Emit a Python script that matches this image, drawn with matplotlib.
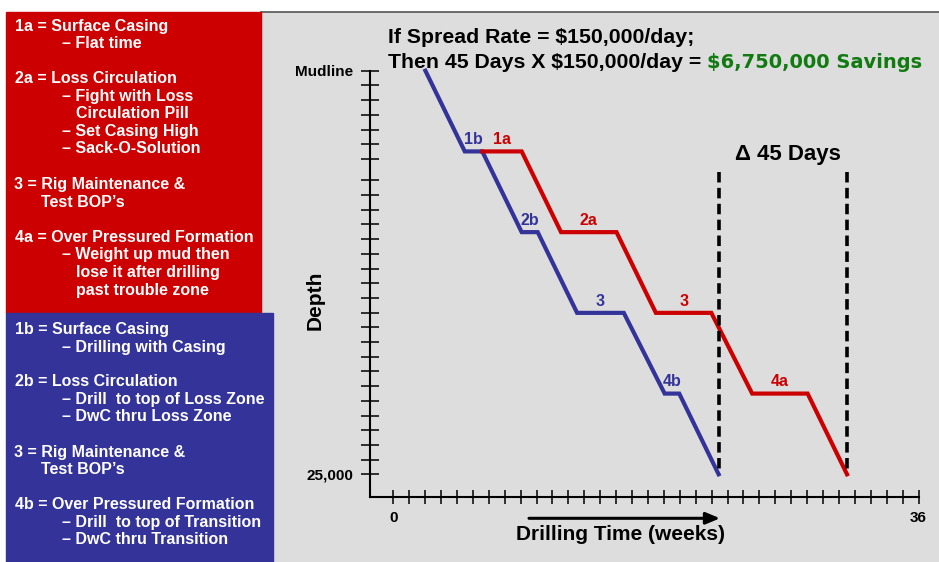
import matplotlib
matplotlib.use('Agg')
import matplotlib.pyplot as plt
import numpy as np
from matplotlib.patches import Rectangle, FancyArrowPatch
from matplotlib.lines import Line2D

plt.rcParams['font.family'] = ['Liberation Sans', 'DejaVu Sans']

# Conventional well (a) vs drilling with casing (b): weeks vs depth (ft)
blue_weeks = [2.2, 4.9, 6.1, 8.8, 9.9, 12.6, 15.8, 18.6, 19.6, 22.3]
blue_depth = [0, 5000, 5000, 10000, 10000, 15000, 15000, 20000, 20000, 25000]
red_weeks = [6.1, 8.8, 11.5, 15.3, 18.0, 21.8, 24.6, 28.4, 31.1]
red_depth = [5000, 5000, 10000, 10000, 15000, 15000, 20000, 20000, 25000]
blue_tags = ['1b', '2b', '3', '4b']
red_tags = ['1a', '2a', '3', '4a']
dash_top = 6300  # depth where the delta markers start

# axis ticks (the original scale is a bit irregular)
x_ticks = np.linspace(0, 36, 34)
x_labels = ['0'] + [''] * 32 + ['36']
y_ticks = np.concatenate([np.linspace(0, 5470, 7), np.linspace(6790, 25000, 21)])
y_labels = ['Mudline'] + [''] * 26 + ['25,000']

red_notes = [
    (15, 31, '1a = Surface Casing'),
    (62, 48.3, '\u2013 Flat time'),
    (15, 83.3, '2a = Loss Circulation'),
    (62, 100.7, '\u2013 Fight with Loss'),
    (76, 118, 'Circulation Pill'),
    (62, 136, '\u2013 Set Casing High'),
    (62, 153.3, '\u2013 Sack-O-Solution'),
    (14, 189.3, '3 = Rig Maintenance &'),
    (41, 206.7, 'Test BOP\u2019s'),
    (15, 242, '4a = Over Pressured Formation'),
    (62, 259.3, '\u2013 Weight up mud then'),
    (76, 277.3, 'lose it after drilling'),
    (76, 294.7, 'past trouble zone'),
]
blue_notes = [
    (15, 334, '1b = Surface Casing'),
    (62, 351.7, '\u2013 Drilling with Casing'),
    (15, 386, '2b = Loss Circulation'),
    (62, 404, '\u2013 Drill  to top of Loss Zone'),
    (62, 421, '\u2013 DwC thru Loss Zone'),
    (14, 456.7, '3 = Rig Maintenance &'),
    (41, 474, 'Test BOP\u2019s'),
    (15, 509.3, '4b = Over Pressured Formation'),
    (62, 526.7, '\u2013 Drill  to top of Transition'),
    (62, 544, '\u2013 DwC thru Transition'),
]

RED = '#cc0000'
BLUE = '#333399'
GREEN = '#117a11'

W, H = 939, 562


def fx(x):
    return x / W


def fy(y):
    return 1 - y / H


fig = plt.figure(figsize=(W / 100, H / 100), dpi=100)
fig.patch.set_facecolor('white')

# background panels
fig.add_artist(Rectangle((fx(261), 0), 1 - fx(261), fy(11.5), transform=fig.transFigure,
                         color='#dddddd', zorder=-3))
fig.add_artist(Line2D([fx(261), 1], [fy(11.5), fy(11.5)], transform=fig.transFigure,
                      color='#555555', lw=1.2, zorder=-2))
fig.add_artist(Rectangle((fx(6), fy(312.5)), fx(261) - fx(6), fy(11.5) - fy(312.5),
                         transform=fig.transFigure, color=RED, zorder=-2))
fig.add_artist(Rectangle((fx(6), 0), fx(273) - fx(6), fy(312.5),
                         transform=fig.transFigure, color=BLUE, zorder=-2))

for x, y, s in red_notes + blue_notes:
    fig.text(fx(x), fy(y), s, color='white', fontsize=11.5, fontweight='bold',
             ha='left', va='baseline')

# chart
ax = fig.add_axes([fx(369.5), fy(496.7), fx(918.5) - fx(369.5), fy(70.7) - fy(496.7)])
ax.set_facecolor('none')
ax.set_xlim(-1.63, 36)
ax.set_ylim(26387, 0)
for side in ['top', 'right']:
    ax.spines[side].set_visible(False)
for side in ['left', 'bottom']:
    ax.spines[side].set_linewidth(1.5)

ax.set_xticks(x_ticks, x_labels)
ax.set_yticks(y_ticks, y_labels)
ax.tick_params(axis='x', direction='inout', length=10, width=1.1, pad=5,
               labelsize=11)
ax.tick_params(axis='y', direction='inout', length=13, width=1.1, pad=5,
               labelsize=11)
for lab in ax.get_xticklabels() + ax.get_yticklabels():
    lab.set_fontweight('bold')

ax.plot(blue_weeks, blue_depth, color=BLUE, lw=3, clip_on=False, solid_joinstyle='miter')
ax.plot(red_weeks, red_depth, color=RED, lw=3, clip_on=False, solid_joinstyle='miter')

for xs, ds, tags, col in [(blue_weeks, blue_depth, blue_tags, BLUE),
                          (red_weeks, red_depth, red_tags, RED)]:
    k = 0
    for i in range(len(xs) - 1):
        if ds[i] == ds[i + 1]:
            ax.text((xs[i] + xs[i + 1]) / 2, ds[i] - 450, tags[k], color=col,
                    fontsize=11.5, fontweight='bold', ha='center', va='baseline')
            k += 1

for xe in [blue_weeks[-1], red_weeks[-1]]:
    ax.plot([xe, xe], [dash_top, 25000], color='black', lw=2.6,
            dashes=(2.9, 1.5), clip_on=False)

ax.text((blue_weeks[-1] + red_weeks[-1]) / 2 + 0.35, 5200, '\u0394 45 Days', fontsize=16,
        fontweight='bold', ha='center', va='center')

# titles
fig.text(fx(388), fy(42.7), 'If Spread Rate = $150,000/day;', fontsize=15.3,
         fontweight='bold', ha='left', va='baseline')
fig.text(fx(388), fy(68.3), 'Then 45 Days X $150,000/day = ', fontsize=15.3,
         fontweight='bold', ha='left', va='baseline')
fig.text(fx(922), fy(68.3), '$6,750,000 Savings', fontsize=14, color=GREEN,
         family='DejaVu Sans', fontweight='bold', ha='right', va='baseline')

fig.text(fx(315), fy(300), 'Depth', rotation=90, fontsize=15, fontweight='bold',
         ha='center', va='center')
fig.text(fx(621), fy(535), 'Drilling Time (weeks)', fontsize=15, fontweight='bold',
         ha='center', va='center')
fig.add_artist(FancyArrowPatch((fx(529), fy(518.3)), (fx(720), fy(518.3)),
                               transform=fig.transFigure,
                               arrowstyle='-|>,head_length=0.6,head_width=0.25',
                               mutation_scale=14, lw=2.2, color='black',
                               shrinkA=0, shrinkB=0))

fig.savefig('out.png', dpi=100)
